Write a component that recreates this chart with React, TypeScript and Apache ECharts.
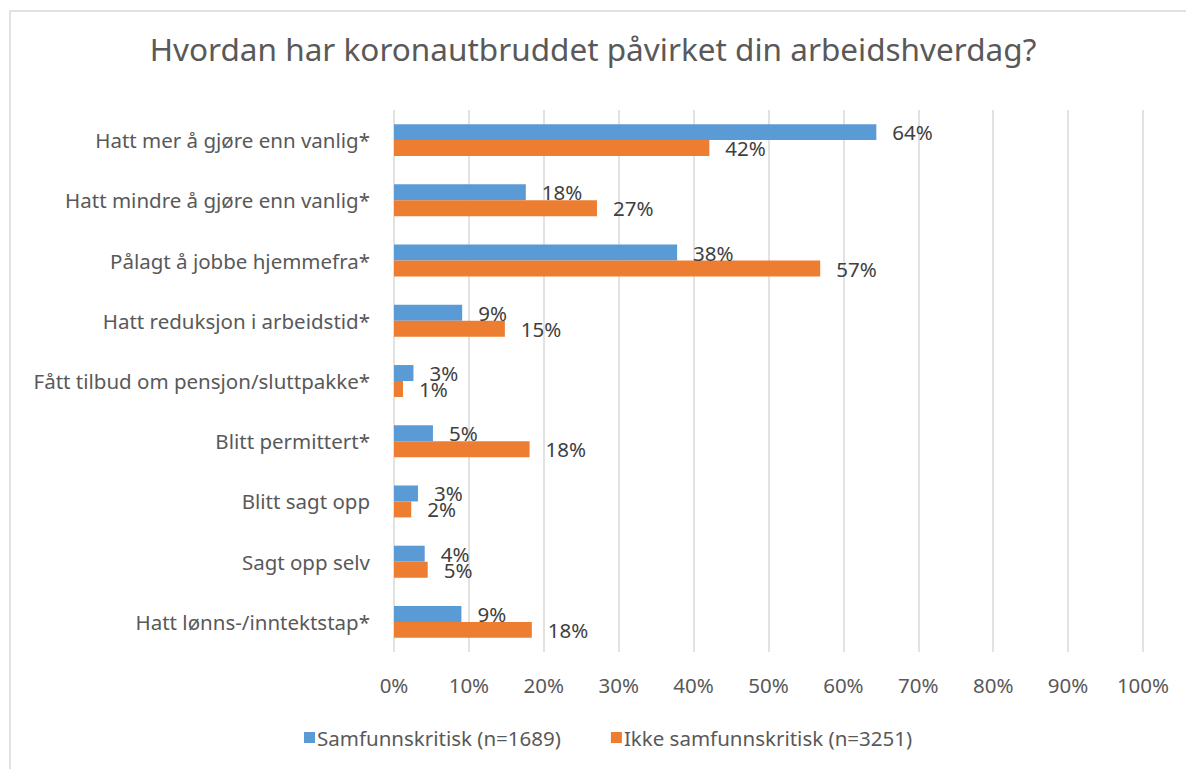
import React, { useEffect, useRef } from "react";
import * as echarts from "echarts";

const categories = [
  "Hatt mer å gjøre enn vanlig*",
  "Hatt mindre å gjøre enn vanlig*",
  "Pålagt å jobbe hjemmefra*",
  "Hatt reduksjon i arbeidstid*",
  "Fått tilbud om pensjon/sluttpakke*",
  "Blitt permittert*",
  "Blitt sagt opp",
  "Sagt opp selv",
  "Hatt lønns-/inntektstap*",
];
const samfunnskritisk = [64.4, 17.6, 37.8, 9.1, 2.6, 5.2, 3.2, 4.1, 9.0];
const ikkeSamfunnskritisk = [42.1, 27.1, 56.9, 14.8, 1.2, 18.1, 2.3, 4.5, 18.4];
const seriesNames = ["Samfunnskritisk (n=1689)", "Ikke samfunnskritisk (n=3251)"];
const title = "Hvordan har koronautbruddet påvirket din arbeidshverdag?";

const FONT = "'Noto Sans', sans-serif";

export default function App() {
  const ref = useRef<HTMLDivElement>(null);
  useEffect(() => {
    document.body.style.margin = "0";
    const chart = echarts.init(ref.current!, null, { renderer: "svg" });
    const label = {
      show: true,
      position: "right" as const,
      distance: 16,
      color: "#404040",
      fontSize: 20.5,
      fontFamily: FONT,
      formatter: (p: any) => Math.round(p.value) + "%",
    };
    chart.setOption({
      animation: false,
      backgroundColor: "#fff",
      textStyle: { fontFamily: FONT },
      title: {
        text: title,
        left: "center",
        top: 27,
        textStyle: { fontSize: 31.5, fontWeight: "normal", color: "#595959", fontFamily: FONT },
      },
      graphic: [
        {
          type: "rect",
          shape: { x: 10, y: 11, width: 1200, height: 800 },
          style: { fill: "none", stroke: "#D9D9D9", lineWidth: 1.5 },
          silent: true,
        },
      ],
      legend: {
        left: 299,
        top: 722,
        itemWidth: 11,
        itemHeight: 11,
        itemGap: 50,
        icon: "rect",
        textStyle: { fontSize: 20.5, color: "#595959", fontFamily: FONT, padding: [0, 0, 0, -3] },
        data: seriesNames,
      },
      grid: { left: 394, right: 43, top: 110, bottom: 117, containLabel: false },
      xAxis: {
        type: "value",
        min: 0,
        max: 100,
        interval: 10,
        axisLabel: { formatter: "{value}%", fontSize: 20.5, color: "#595959", margin: 22, fontFamily: FONT },
        splitLine: { show: true, lineStyle: { color: "#D9D9D9", width: 1.5 } },
        axisLine: { show: false },
        axisTick: { show: false },
      },
      yAxis: {
        type: "category",
        data: categories,
        inverse: true,
        axisLabel: { fontSize: 20.5, color: "#595959", margin: 24, fontFamily: FONT },
        axisLine: { show: false },
        axisTick: { show: false },
      },
      series: [
        {
          name: seriesNames[0],
          type: "bar",
          data: samfunnskritisk,
          itemStyle: { color: "#5B9BD5" },
          barGap: "0%",
          barCategoryGap: "47%",
          label,
        },
        {
          name: seriesNames[1],
          type: "bar",
          data: ikkeSamfunnskritisk,
          itemStyle: { color: "#ED7D31" },
          barGap: "0%",
          barCategoryGap: "47%",
          label,
        },
      ],
    });
    return () => chart.dispose();
  }, []);
  return <div ref={ref} style={{ width: 1186, height: 769 }} />;
}
